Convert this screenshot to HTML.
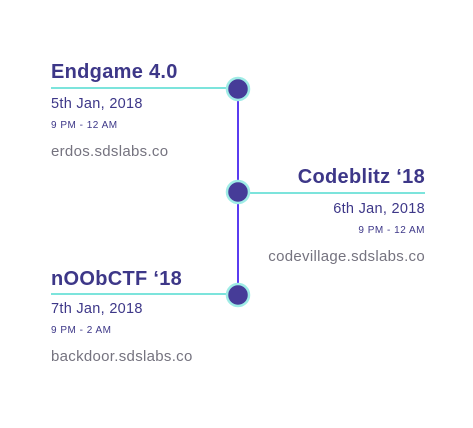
<!DOCTYPE html>
<html><head><style>
body{margin:0;width:473px;height:428px;background:#fff;position:relative;font-family:"Liberation Sans",sans-serif;overflow:hidden}
.t{position:absolute;white-space:nowrap;line-height:1}
.ti{font-size:20px;font-weight:bold;color:#3d3788;letter-spacing:0.3px}
.d{font-size:14.5px;color:#3d3788;letter-spacing:0.3px}
.tm{font-size:10px;color:#3d3788;letter-spacing:0.5px}
.u{font-size:15px;color:#75737f;letter-spacing:0.3px}
.r{right:48px;text-align:right}
.l{left:51px}
</style></head><body>
<svg width="473" height="428" style="position:absolute;left:0;top:0">
<line x1="238" y1="89" x2="238" y2="295" stroke="#5a3cf0" stroke-width="2"/>
<line x1="51" y1="88" x2="238" y2="88" stroke="#2ed3c8" stroke-width="1.2"/>
<line x1="238" y1="193" x2="425" y2="193" stroke="#2ed3c8" stroke-width="1.2"/>
<line x1="51" y1="294" x2="238" y2="294" stroke="#2ed3c8" stroke-width="1.2"/>
<g fill="#463c98" stroke="#9fece6" stroke-width="2.5">
<circle cx="238" cy="89" r="11"/>
<circle cx="238" cy="192" r="11"/>
<circle cx="238" cy="295" r="11"/>
</g>
</svg>
<div class="t ti l" style="top:62px">Endgame 4.0</div>
<div class="t d l" style="top:97px">5th Jan, 2018</div>
<div class="t tm l" style="top:121px">9 PM - 12 AM</div>
<div class="t u l" style="top:144px">erdos.sdslabs.co</div>

<div class="t ti r" style="top:167px">Codeblitz ‘18</div>
<div class="t d r" style="top:202px">6th Jan, 2018</div>
<div class="t tm r" style="top:226px">9 PM - 12 AM</div>
<div class="t u r" style="top:249px">codevillage.sdslabs.co</div>

<div class="t ti l" style="top:269px">nOObCTF ‘18</div>
<div class="t d l" style="top:302px">7th Jan, 2018</div>
<div class="t tm l" style="top:326px">9 PM - 2 AM</div>
<div class="t u l" style="top:349px">backdoor.sdslabs.co</div>
</body></html>
